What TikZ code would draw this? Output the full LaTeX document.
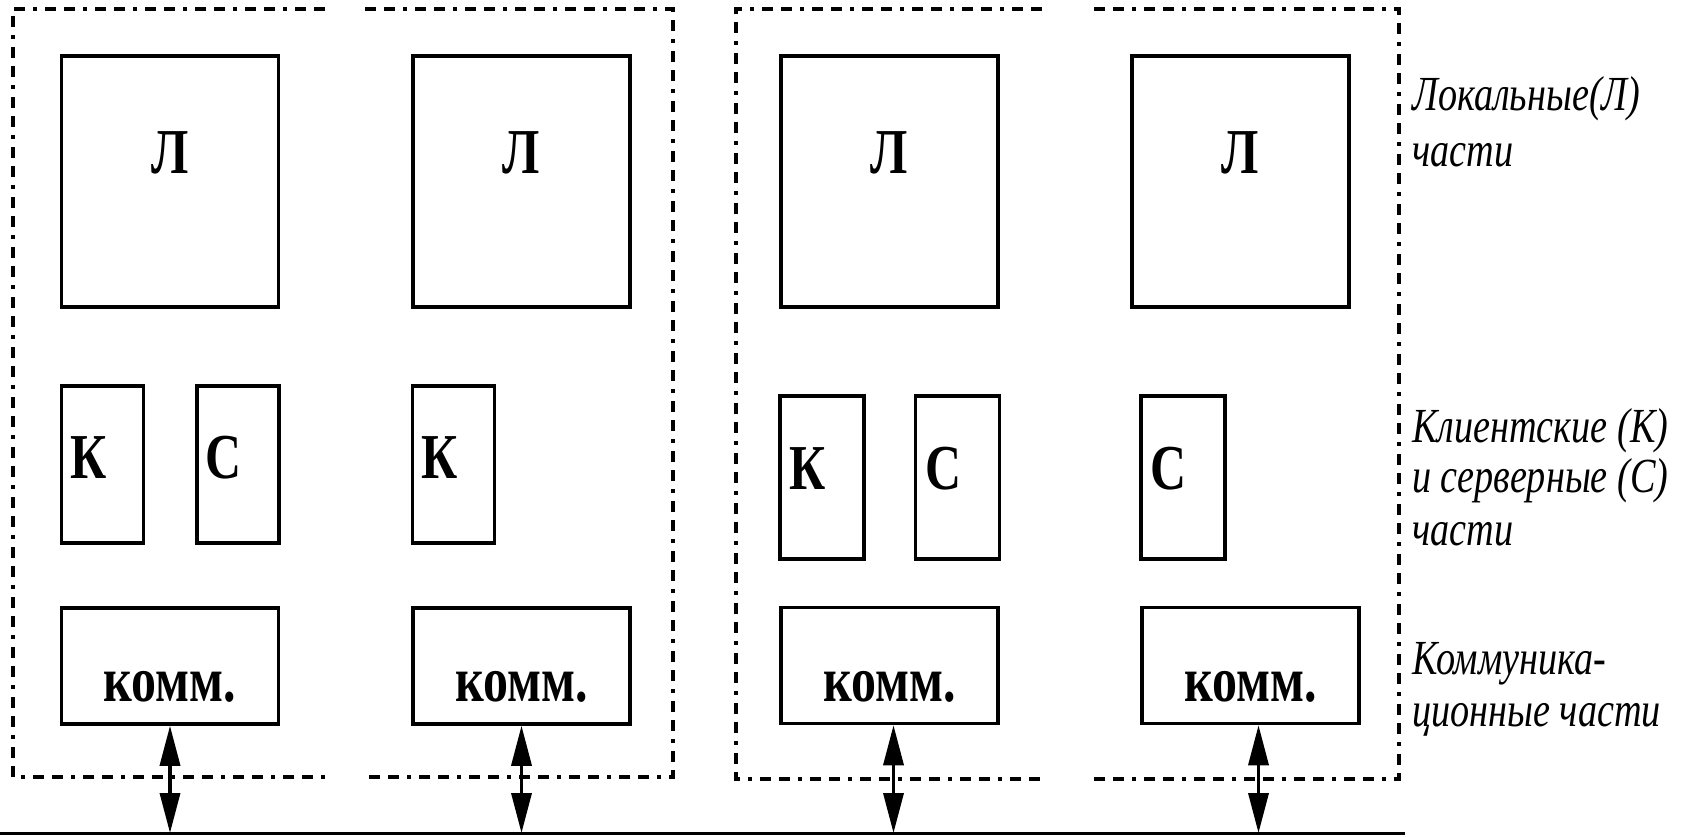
\documentclass[tikz,border=0pt]{standalone}
\usepackage{fontspec}
\setmainfont{Liberation Serif}[FakeStretch=0.78]
\usetikzlibrary{arrows.meta}
\begin{document}
\begin{tikzpicture}[x=1pt,y=-1pt,
  part/.style={draw, line width=3.5pt, inner sep=0pt},
  letter/.style={font=\fontsize{64}{70}\selectfont\bfseries, inner sep=0pt},
  side/.style={font=\fontsize{49}{54}\selectfont\itshape, anchor=base west, inner sep=0pt},
  frame/.style={line width=4pt, dash pattern=on 11pt off 8pt on 11pt off 8pt on 4pt off 8pt},
  biarrow/.style={line width=3.5pt, {Triangle[length=40pt,width=20pt]}-{Triangle[length=40pt,width=20pt]}},
  lbox/.style={part, minimum width=217pt, minimum height=251pt,
    label={[letter, yshift=29pt]center:#1}},
  csbox/.style={part, minimum width=82pt, minimum height=157pt,
    label={[letter, xshift=-14pt, yshift=7pt]center:#1}},
  csboxb/.style={part, minimum width=84pt, minimum height=163pt,
    label={[letter, xshift=-14pt, yshift=9pt]center:#1}},
  combox/.style={part, minimum width=217pt, minimum height=116pt,
    label={[letter, yshift=-21pt]center:комм.}}]

\useasboundingbox (0,0) rectangle (1681,836);

% dashed outlines of the two stations, each split by a gap in the middle
\draw[frame] (325,9) -- (13,9) -- (13,777) -- (325,777);
\draw[frame] (365,9) -- (673,9) -- (673,777) -- (365,777);
\draw[frame] (1042,9) -- (736,9) -- (736,779) -- (1042,779);
\draw[frame] (1094,9) -- (1399,9) -- (1399,779) -- (1094,779);

% local parts
\node[lbox=Л] (l1) at (170,181.5) {};
\node[lbox=Л] (l2) at (521.5,181.5) {};
\node[lbox=Л] (l3) at (889.5,181.5) {};
\node[lbox=Л] (l4) at (1240.5,181.5) {};

% client and server parts
\node[csbox=К] (k1) at (102.5,464.5) {};
\node[csbox=С] (s1) at (238,464.5) {};
\node[csbox=К] (k2) at (453.5,464.5) {};
\node[csboxb=К] (k3) at (822,477.5) {};
\node[csboxb=С] (s3) at (957.5,477.5) {};
\node[csboxb=С] (s4) at (1183,477.5) {};

% communication parts
\node[combox] (c1) at (170,666) {};
\node[combox] (c2) at (521.5,666) {};
\node[combox] (c3) at (889.5,665.5) {};
\node[combox] (c4) at (1250.5,665.5) {};

% shared bus
\coordinate (busL) at (0,833);
\coordinate (busR) at (1405,833);
\draw[line width=3pt] (busL) -- (busR);

% links from the communication parts to the bus
\draw[biarrow] (c1.south) -- (c1.south |- busL);
\draw[biarrow] (c2.south) -- (c2.south |- busL);
\draw[biarrow] ([xshift=4pt]c3.south) -- ([xshift=4pt]c3.south |- busL);
\draw[biarrow] ([xshift=8pt]c4.south) -- ([xshift=8pt]c4.south |- busL);

% legend
\node[side] (tl1) at (1412,110) {Локальные(Л)};
\node[side] (tl2) at (1412,166) {части};
\node[side] (tc1) at (1412,442) {Клиентские (К)};
\node[side] (tc2) at (1412,492) {и серверные (С)};
\node[side] (tc3) at (1412,545) {части};
\node[side] (tk1) at (1412,674) {Коммуника-};
\node[side] (tk2) at (1412,726) {ционные части};
\end{tikzpicture}
\end{document}
